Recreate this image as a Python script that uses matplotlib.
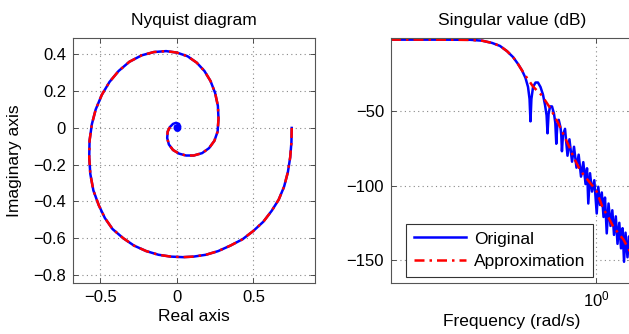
import matplotlib.pyplot as plt
from matplotlib.ticker import NullLocator

plt.rcParams['font.family'] = ['Liberation Sans', 'DejaVu Sans']
plt.rcParams['axes.unicode_minus'] = True

# Nyquist curve of the original system (real / imaginary parts)
nyq_re = [0.75, 0.748, 0.74, 0.725, 0.70, 0.665, 0.62, 0.565, 0.50, 0.43, 0.35, 0.27,
          0.19, 0.11, 0.04, -0.04, -0.12, -0.20, -0.28, -0.35, -0.42, -0.47, -0.51,
          -0.545, -0.565, -0.572, -0.57, -0.555, -0.53, -0.49, -0.44, -0.38, -0.31,
          -0.23, -0.15, -0.07, 0.0, 0.07, 0.13, 0.18, 0.22, 0.25, 0.268, 0.272, 0.266,
          0.245, 0.21, 0.165, 0.11, 0.06, 0.015, -0.025, -0.052, -0.063, -0.06, -0.045,
          -0.025, -0.005, 0.014, 0.022, 0.02, 0.01, -0.004, -0.014, -0.012, 0.0, 0.009,
          0.007, 0.0, 0.0]
nyq_im = [0.0, -0.08, -0.16, -0.24, -0.32, -0.39, -0.45, -0.51, -0.56, -0.605, -0.64,
          -0.67, -0.69, -0.70, -0.703, -0.70, -0.69, -0.67, -0.64, -0.60, -0.55, -0.49,
          -0.42, -0.34, -0.25, -0.16, -0.07, 0.02, 0.10, 0.18, 0.25, 0.31, 0.36, 0.395,
          0.413, 0.418, 0.41, 0.39, 0.355, 0.31, 0.255, 0.19, 0.12, 0.05, -0.02, -0.07,
          -0.11, -0.137, -0.15, -0.15, -0.14, -0.12, -0.09, -0.055, -0.02, 0.005, 0.022,
          0.028, 0.022, 0.008, -0.007, -0.015, -0.014, -0.003, 0.009, 0.013, 0.006,
          -0.003, -0.004, 0.0]
n_approx = 56  # the approximation follows the original up to the inner curl

# singular value of the original system
w_orig = [0.1, 0.173, 0.243, 0.278, 0.311, 0.340, 0.368, 0.394, 0.416, 0.436, 0.453,
          0.466, 0.474, 0.479, 0.484, 0.493, 0.507, 0.521, 0.536, 0.551, 0.564, 0.574,
          0.580, 0.587, 0.597, 0.610, 0.624, 0.633, 0.640, 0.647, 0.658, 0.671, 0.677,
          0.682, 0.690, 0.706, 0.726, 0.742, 0.764, 0.781, 0.803, 0.823, 0.845, 0.867,
          0.889, 0.904, 0.917, 0.935, 0.956, 0.981, 1.008, 1.026, 1.046, 1.067, 1.088,
          1.106, 1.128, 1.151, 1.177, 1.201, 1.224, 1.249, 1.273, 1.299, 1.324, 1.347,
          1.370, 1.393, 1.424, 1.449, 1.482, 1.515]
sv_orig = [-2.3, -2.3, -2.4, -3.0, -4.5, -6.5, -10, -14, -18.5, -23, -28, -34, -42, -57,
           -42, -34, -31, -31, -34, -39, -46, -53, -65, -52, -47, -47, -52, -58, -72,
           -60, -56, -61, -66, -77, -66, -62, -80, -69, -84, -74, -88, -79.3, -94,
           -84.3, -99, -88.4, -112, -91.7, -104, -96.4, -118.7, -100.8, -113, -104.6,
           -121, -108, -132, -112, -127, -116.5, -133, -120.6, -139, -124.9, -142,
           -128.5, -151, -131.5, -148, -134, -150, -139]

# singular value of the approximation
w_appr = [0.1, 0.173, 0.243, 0.278, 0.311, 0.340, 0.368, 0.394, 0.416, 0.436, 0.461,
          0.493, 0.543, 0.597, 0.653, 0.746, 0.775, 0.836, 0.884, 0.970, 1.008, 1.086,
          1.128, 1.214, 1.359, 1.449, 1.515]
sv_appr = [-2.3, -2.3, -2.5, -3.0, -4.5, -6.5, -10, -14, -18.5, -23, -28, -33.7, -39.5,
           -48, -58, -75, -80.6, -89.6, -94, -100.8, -104, -116, -119, -127.6, -136,
           -143, -149]

blue = '#0000ff'
red = '#ff0000'
dashdot = (0, (4, 2, 1, 2))
grid_kw = dict(color='#888888', linestyle=(0, (1, 3)), linewidth=0.8)

fig = plt.figure(figsize=(6.29, 3.34), dpi=100)
ax1 = fig.add_axes([73 / 629, 51.3 / 334, 242 / 629, 245 / 334])
ax2 = fig.add_axes([391 / 629, 51.3 / 334, 242 / 629, 245 / 334])

# --- Nyquist diagram
ax1.plot(nyq_re, nyq_im, color=blue, lw=1.8)
ax1.plot(nyq_re[:n_approx], nyq_im[:n_approx], color=red, lw=1.8, linestyle=dashdot)
ax1.set_xlim(-0.678, 0.902)
ax1.set_ylim(-0.842, 0.491)
ax1.set_xticks([-0.5, 0, 0.5])
ax1.set_xticklabels(['\u22120.5', '0', '0.5'])
ax1.set_yticks([0.4, 0.2, 0, -0.2, -0.4, -0.6, -0.8])
ax1.set_yticklabels(['0.4', '0.2', '0', '\u22120.2', '\u22120.4', '\u22120.6', '\u22120.8'])
ax1.set_title('Nyquist diagram', fontsize=12.5, pad=9)
ax1.set_xlabel('Real axis', fontsize=12.5, labelpad=3)
ax1.set_ylabel('Imaginary axis', fontsize=12.5, labelpad=8)

# --- singular value plot
ax2.semilogx(w_orig, sv_orig, color=blue, lw=1.8, label='Original')
ax2.semilogx(w_appr, sv_appr, color=red, lw=1.8, linestyle=dashdot, label='Approximation')
ax2.set_xlim(0.1, 1.515)
ax2.set_ylim(-165, -1)
ax2.set_xticks([1])
ax2.xaxis.set_minor_locator(NullLocator())
ax2.set_yticks([-50, -100, -150])
ax2.set_yticklabels(['\u221250', '\u2212100', '\u2212150'])
ax2.set_title('Singular value (dB)', fontsize=12.5, pad=9)
ax2.set_xlabel('Frequency (rad/s)', fontsize=12.5, labelpad=3)
leg = ax2.legend(loc='lower left', bbox_to_anchor=(406 / 629, 56.7 / 334),
                 bbox_transform=fig.transFigure, borderaxespad=0, fontsize=12.5,
                 fancybox=False, framealpha=1, edgecolor='#333333',
                 handlelength=3.0, handletextpad=0.45, borderpad=0.45, labelspacing=0.45)
leg.get_frame().set_linewidth(0.8)

for ax in (ax1, ax2):
    ax.grid(True, **grid_kw)
    ax.tick_params(direction='in', top=True, right=True, length=3.5, width=0.6,
                   labelsize=12, pad=5, colors='#333333', labelcolor='black')
    for sp in ax.spines.values():
        sp.set_color('#555555')
        sp.set_linewidth(0.8)

fig.savefig('out.png', dpi=100)
